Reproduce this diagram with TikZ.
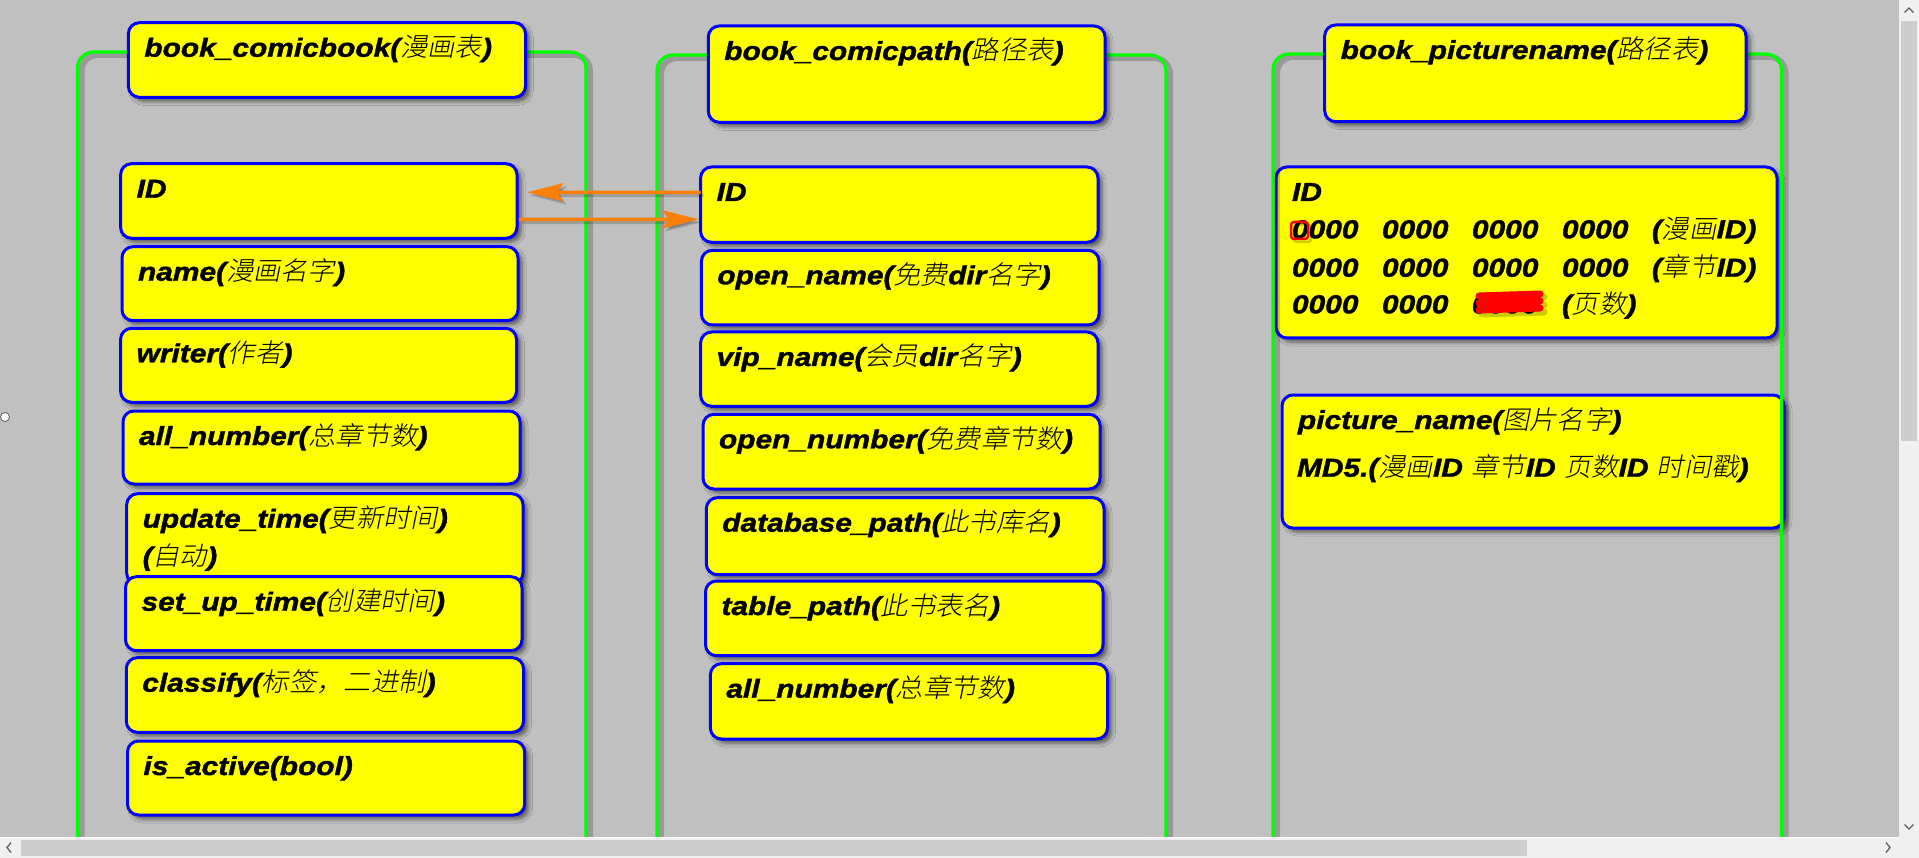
\documentclass[tikz,border=0pt]{standalone}
\usepackage{fontspec}
\usetikzlibrary{arrows.meta,shadows.blur}
\newfontfamily\latf{Liberation Sans}[FakeStretch=1.15, BoldItalicFeatures={FakeBold=1.5}]
\IfFontExistsTF{Noto Sans CJK SC Light}%
  {\newfontface\cjkf{Noto Sans CJK SC Light}[FakeSlant=0.2,FakeStretch=1.05]}%
  {\newfontface\cjkf{Noto Sans CJK SC}[FakeSlant=0.2,FakeStretch=1.05]}
\newcommand\lat{\latf\bfseries\itshape\fontsize{26pt}{38pt}\selectfont}
\newcommand\C[1]{{\cjkf\mdseries\upshape\fontsize{26pt}{38pt}\selectfont #1}}
\newcommand\grp[1]{\makebox[90pt][l]{#1}}
\definecolor{bg}{RGB}{192,192,192}
\definecolor{gline}{RGB}{0,255,0}
\definecolor{bline}{RGB}{0,0,255}
\definecolor{yel}{RGB}{255,255,0}
\definecolor{orng}{RGB}{250,128,10}
\definecolor{sbtrack}{RGB}{240,240,240}
\definecolor{sbthumb}{RGB}{205,205,205}
\definecolor{chev}{RGB}{96,96,96}
\tikzset{
  box/.style={draw=bline, line width=3pt, fill=yel, rounded corners=11pt,
    inner sep=0pt, outer sep=0pt, anchor=north west,
    blur shadow={shadow xshift=4pt, shadow yshift=-4pt, shadow blur radius=4pt, shadow opacity=55}},
  lbl/.style={anchor=base west, inner sep=0pt, outer sep=0pt, font=\lat, text=black},
  cont/.style={draw=gline, line width=3.3pt, rounded corners=16pt},
  contsh/.style={draw=black, opacity=0.2, line width=6pt, rounded corners=16pt},
  arr/.style={draw=orng, line width=3.5pt, -{Stealth[length=36pt, width=18pt, inset=6pt]}},
  arrsh/.style={draw=black, opacity=0.18, line width=3.5pt, -{Stealth[length=36pt, width=18pt, inset=6pt]}},
  redmark/.style={draw=red, line width=2.5pt, line cap=round, rounded corners=3pt},
  scribble/.style={draw=red, line width=7pt, line cap=round},
}
\newcommand\tbox[6]{%
  \node[box, minimum width={#4-#2-2}, minimum height={#5-#3-2}] (#1) at ({#2+1},{#3+1}) {};
  \node[lbl] (#1t) at ({#2+17},{#3+35}) {#6};
}
\begin{document}
\begin{tikzpicture}[x=1pt, y=-1pt]
\useasboundingbox (0,0) rectangle (1919,858);
\fill[bg] (0,0) rectangle (1919,858);

% containers left and middle
\draw[contsh] (81.5,862) -- (81.5,55) -- (590,55) -- (590,862);
\draw[cont] (77.5,860) -- (77.5,52) -- (586,52) -- (586,860);
\draw[contsh] (661,862) -- (661,58) -- (1170,58) -- (1170,862);
\draw[cont] (657,860) -- (657,55) -- (1166,55) -- (1166,860);

% left column
\tbox{H1}{127.4}{21.7}{526.5}{98.3}{book\_comicbook(\C{漫画表})}
\tbox{L1}{119.6}{162.7}{518}{239.3}{ID}
\tbox{L2}{121}{245.7}{519}{321.7}{name(\C{漫画名字})}
\tbox{L3}{119.6}{327.3}{517.5}{403.3}{writer(\C{作者})}
\tbox{L4}{122}{410}{521}{485}{all\_number(\C{总章节数})}
\tbox{L5}{125.7}{492.7}{524}{585}{update\_time(\C{更新时间})}
\node[lbl] (L5u) at (142.7,565.5) {(\C{自动})};
\tbox{L6}{124.5}{575.7}{523}{651.7}{set\_up\_time(\C{创建时间})}
\tbox{L7}{125.3}{656.7}{524.5}{733.3}{classify(\C{标签，二进制})}
\tbox{L8}{126.5}{740}{525.7}{816}{is\_active(bool)}

% middle column
\tbox{H2}{707.3}{25}{1106}{123.3}{book\_comicpath(\C{路径表})}
\tbox{M1}{699.6}{166}{1099}{243.3}{ID}
\tbox{M2}{700.4}{249.3}{1100}{326}{open\_name(\C{免费}dir\C{名字})}
\tbox{M3}{699.6}{331}{1099}{407.3}{vip\_name(\C{会员}dir\C{名字})}
\tbox{M4}{702}{413.3}{1101}{490}{open\_number(\C{免费章节数})}
\tbox{M5}{705.3}{496.7}{1105}{575.7}{database\_path(\C{此书库名})}
\tbox{M6}{704.5}{580}{1104}{656.7}{table\_path(\C{此书表名})}
\tbox{M7}{709.4}{662.7}{1108.5}{740}{all\_number(\C{总章节数})}

% right column
\tbox{R1}{1275}{166}{1778}{339}{ID}
\node[lbl] (R1a) at (1292,238.3) {\grp{0000}\grp{0000}\grp{0000}\grp{0000}(\C{漫画}ID)};
\node[lbl] (R1b) at (1292,276.7) {\grp{0000}\grp{0000}\grp{0000}\grp{0000}(\C{章节}ID)};
\node[lbl] (R1c) at (1292,313.3) {\grp{0000}\grp{0000}\grp{0000}(\C{页数})};
\tbox{R2}{1281}{394}{1785}{529}{picture\_name(\C{图片名字})}
\node[lbl] (R2b) at (1297,476.7) {MD5.(\C{漫画}ID \C{章节}ID \C{页数}ID \C{时间戳})};
\draw[contsh] (1277,862) -- (1277,57) -- (1785.5,57) -- (1785.5,862);
\draw[cont] (1273,860) -- (1273,54) -- (1781.5,54) -- (1781.5,860);
\tbox{H3}{1323.7}{24}{1747}{122.7}{book\_picturename(\C{路径表})}

% red redaction marks
\draw[redmark, draw=black, opacity=0.2] (1294,225) rectangle (1311,242);
\draw[redmark] (1291,222) rectangle (1308,239);
\draw[scribble, draw=black, opacity=0.2] (1482,299) -- (1544,297) (1482,307) -- (1544,305) (1482,314) -- (1544,312);
\draw[scribble] (1479,296) -- (1540,294) (1479,303) -- (1540,301) (1479,310) -- (1540,308);

% connectors
\draw[arrsh] ([xshift=3pt, yshift=9.35pt]M1.west) -- ([xshift=13pt, yshift=5.7pt]L1.east);
\draw[arrsh] ([xshift=5pt, yshift=-21.3pt]L1.east) -- ([xshift=1pt, yshift=-17.65pt]M1.west);
\draw[arr] ([yshift=12.35pt]M1.west) -- ([xshift=10pt, yshift=8.7pt]L1.east);
\draw[arr] ([xshift=2pt, yshift=-18.3pt]L1.east) -- ([xshift=-2pt, yshift=-14.65pt]M1.west);

% window scrollbars
\fill[sbtrack] (0,837) rectangle (1919,858);
\fill[sbtrack] (1899,0) rectangle (1919,858);
\draw[white, line width=1pt] (0,837) -- (1899,837);
\fill[sbthumb] (21,840) rectangle (1527,856);
\fill[sbthumb] (1901,21) rectangle (1917,441);
\draw[chev, line width=1.3pt] (11,842.5) -- (7,847.5) -- (11,852.5);
\draw[chev, line width=1.3pt] (1886,842.5) -- (1890,847.5) -- (1886,852.5);
\draw[chev, line width=1.3pt] (1904.5,12.5) -- (1909,8) -- (1913.5,12.5);
\draw[chev, line width=1.3pt] (1904.5,824.5) -- (1909,829) -- (1913.5,824.5);
\draw[fill=white, draw=chev, line width=0.8pt] (5,417) circle (4.5pt);
\end{tikzpicture}
\end{document}
